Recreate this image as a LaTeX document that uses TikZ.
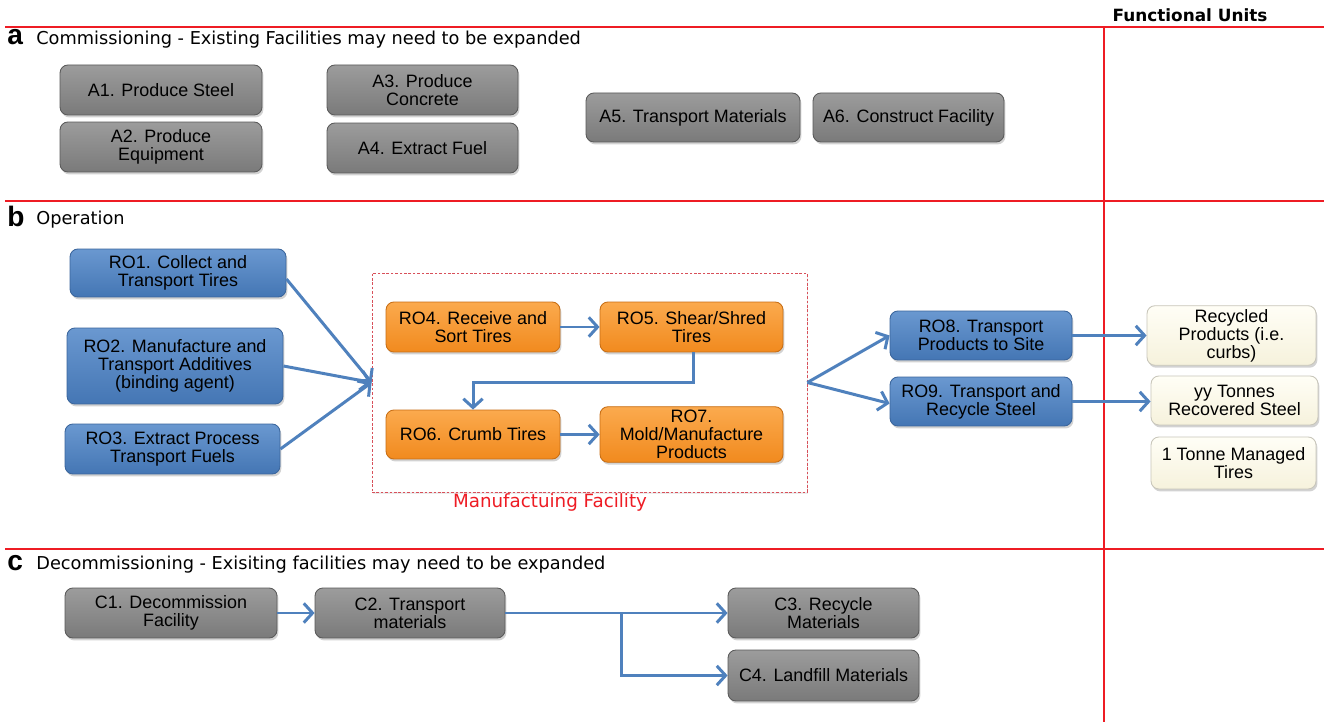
\documentclass[tikz,border=0pt]{standalone}
\usepackage{fontspec}
\setmainfont{Liberation Sans}
\newfontfamily\headfont{DejaVu Sans}
\usetikzlibrary{arrows.meta,shadows,calc}
\definecolor{linered}{HTML}{EE1C24}
\definecolor{gtop}{HTML}{9C9C9C}
\definecolor{gbot}{HTML}{7A7A7A}
\definecolor{gbord}{HTML}{5A5A5A}
\definecolor{btop}{HTML}{6A98D0}
\definecolor{bbot}{HTML}{4476B4}
\definecolor{bbord}{HTML}{3A659C}
\definecolor{otop}{HTML}{FBAA4E}
\definecolor{obot}{HTML}{F18A1E}
\definecolor{obord}{HTML}{C86E14}
\definecolor{ctop}{HTML}{FFFEF6}
\definecolor{cbot}{HTML}{F6F2DC}
\definecolor{cbord}{HTML}{C8C6BA}
\definecolor{flowblue}{HTML}{4F81BD}
\definecolor{mfred}{HTML}{D8505A}
\begin{document}
\begin{tikzpicture}[x=0.02cm,y=-0.02cm,
  box/.style={rounded corners=4.5pt, align=center, inner sep=2pt, text=black,
    font=\fontsize{10.2}{10.2}\selectfont, line width=0.5pt,
    drop shadow={shadow xshift=0.8pt, shadow yshift=-1.4pt, opacity=0.35}},
  gbox/.style={box, top color=gtop, bottom color=gbot, draw=gbord},
  bbox/.style={box, top color=btop, bottom color=bbot, draw=bbord},
  obox/.style={box, top color=otop, bottom color=obot, draw=obord},
  cbox/.style={box, top color=ctop, bottom color=cbot, draw=cbord},
  flow/.style={draw=flowblue, line width=1.7pt, -{Straight Barb[length=5pt,width=11pt]}},
  sep/.style={draw=linered, line width=1.2pt},
  letter/.style={anchor=base west, inner sep=0, font=\bfseries\fontsize{16}{16}\selectfont},
  head/.style={anchor=base west, inner sep=0, font=\headfont\fontsize{10.1}{10.1}\selectfont}
]
\useasboundingbox (0,0) rectangle (1324,722);
\fill[white] (0,0) rectangle (1324,722);

% separators
\draw[sep] (5,27) -- (1324,27);
\draw[sep] (5,201) -- (1324,201);
\draw[sep] (5,549) -- (1324,549);
\draw[sep] (1104,27) -- (1104,722);

\node[anchor=base, inner sep=0, font=\headfont\bfseries\fontsize{9.6}{9.6}\selectfont] (fu) at (1190,22) {Functional Units};

% headings
\node[letter] (la) at (7,45) {a};
\node[head] (ha) at (36,45) {Commissioning - Existing Facilities may need to be expanded};
\node[letter] (lb) at (7,227) {b};
\node[head] (hb) at (36,225) {Operation};
\node[letter] (lc) at (7,570) {c};
\node[head] (hc) at (36,569) {Decommissioning - Exisiting facilities may need to be expanded};

% a: commissioning
\node[gbox, minimum width=4.04cm, minimum height=1cm] (A1) at (161,90) {A1. Produce Steel};
\node[gbox, minimum width=4.04cm, minimum height=1cm] (A2) at (161,147) {A2. Produce\\Equipment};
\node[gbox, minimum width=3.82cm, minimum height=1cm] (A3) at (422.5,90) {A3. Produce\\Concrete};
\node[gbox, minimum width=3.82cm, minimum height=1cm] (A4) at (422.5,148) {A4. Extract Fuel};
\node[gbox, minimum width=4.28cm, minimum height=0.98cm] (A5) at (693,117.5) {A5. Transport Materials};
\node[gbox, minimum width=3.82cm, minimum height=0.98cm] (A6) at (908.5,117.5) {A6. Construct Facility};

% b: operation
\node[draw=mfred, line width=0.5pt, dash pattern=on 1.5pt off 1pt, minimum width=8.7cm, minimum height=4.38cm, inner sep=0,
  drop shadow={shadow xshift=0.8pt, shadow yshift=-1pt, opacity=0.15}, fill=white] (mf) at (589.5,382.5) {};
\node[text=linered, inner sep=0, font=\headfont\fontsize{10.4}{10.4}\selectfont] (mfl) at (550,502) {Manufactuing Facility};

\node[bbox, minimum width=4.32cm, minimum height=0.96cm] (RO1) at (178,273) {RO1. Collect and\\Transport Tires};
\node[bbox, minimum width=4.32cm, minimum height=1.52cm] (RO2) at (175,366) {RO2. Manufacture and\\Transport Additives\\(binding agent)};
\node[bbox, minimum width=4.30cm, minimum height=1.0cm] (RO3) at (172.5,449) {RO3. Extract Process\\Transport Fuels};

\node[obox, minimum width=3.48cm, minimum height=1.0cm] (RO4) at (473,327) {RO4. Receive and\\Sort Tires};
\node[obox, minimum width=3.66cm, minimum height=1.0cm] (RO5) at (691.5,327) {RO5. Shear/Shred\\Tires};
\node[obox, minimum width=3.48cm, minimum height=0.98cm] (RO6) at (473,434.5) {RO6. Crumb Tires};
\node[obox, minimum width=3.66cm, minimum height=0.98cm] (RO7) at (691.5,434.5) {RO7.\\Mold/Manufacture\\Products};

\node[bbox, minimum width=3.64cm, minimum height=0.98cm] (RO8) at (981,335.5) {RO8. Transport\\Products to Site};
\node[bbox, minimum width=3.64cm, minimum height=0.98cm] (RO9) at (981,401.5) {RO9. Transport and\\Recycle Steel};

\node[cbox, minimum width=3.38cm, minimum height=0.98cm] (F1) at (1231.5,335.5) {Recycled\\Products (i.e.\\curbs)};
\node[cbox, minimum width=3.34cm, minimum height=0.98cm] (F2) at (1234.5,400.5) {yy Tonnes\\Recovered Steel};
\node[cbox, minimum width=3.30cm, minimum height=1.04cm] (F3) at (1233.5,463) {1 Tonne Managed\\Tires};

\coordinate (jin) at (mf.west);
\coordinate (jout) at (mf.east);
\draw[flow] ([yshift=-0.12cm]RO1.east) -- (jin);
\draw[flow] (RO2.east) -- (jin);
\draw[flow] (RO3.east) -- (jin);
\draw[flow] (RO4.east) -- (RO5.west);
\draw[flow] ([xshift=0.03cm]RO5.south) -- ++(0,30) -| (RO6.north);
\draw[flow] (RO6.east) -- (RO7.west);
\draw[flow] (jout) -- (RO8.west);
\draw[flow] (jout) -- ([yshift=-0.04cm]RO9.west);
\draw[flow] (RO8.east) -- (F1.west);
\draw[flow] (RO9.east) -- (RO9.east -| F2.west);

% c: decommissioning
\node[gbox, minimum width=4.24cm, minimum height=1cm] (C1) at (171,613) {C1. Decommission\\Facility};
\node[gbox, minimum width=3.80cm, minimum height=1cm] (C2) at (410,613) {C2. Transport\\materials};
\node[gbox, minimum width=3.82cm, minimum height=1cm] (C3) at (823.5,613) {C3. Recycle\\Materials};
\node[gbox, minimum width=3.82cm, minimum height=1.02cm] (C4) at (823.5,675.5) {C4. Landfill Materials};
\coordinate (br) at (621,613);
\draw[flow] (C1.east) -- (C2.west);
\draw[flow] (C2.east) -- (C3.west);
\draw[flow] (br) |- (C4.west);
\end{tikzpicture}
\end{document}
